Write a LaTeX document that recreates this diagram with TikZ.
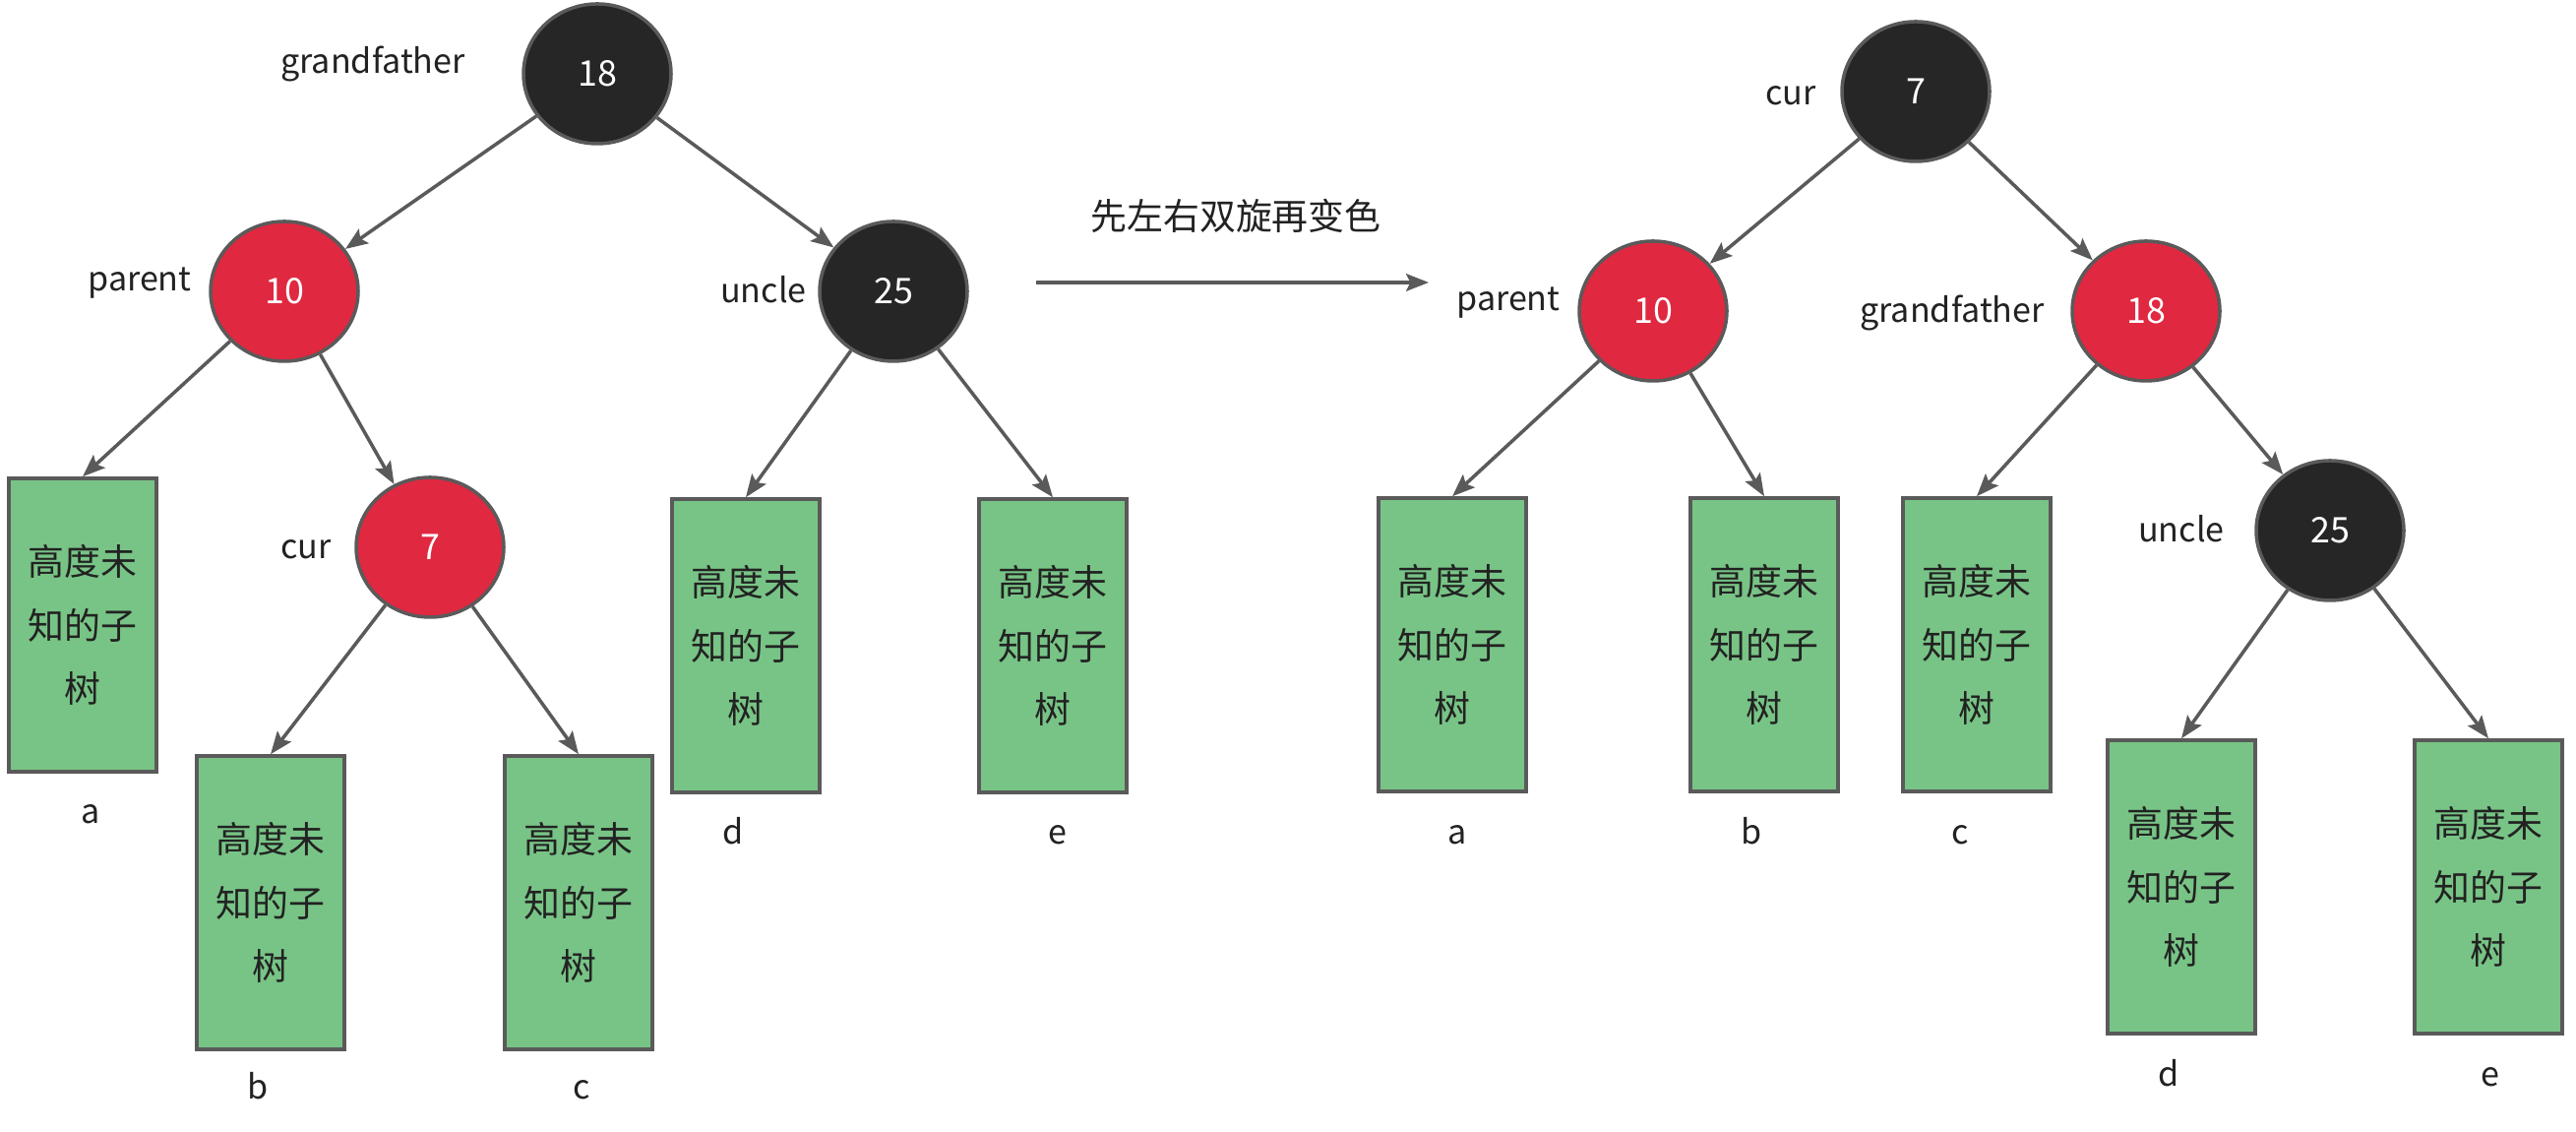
\documentclass[tikz,border=0pt]{standalone}
\usepackage{fontspec}
\setmainfont{Noto Sans CJK SC}
\usetikzlibrary{shapes.geometric,arrows.meta}

\definecolor{nodered}{RGB}{224,40,64}
\definecolor{nodeblack}{RGB}{38,38,38}
\definecolor{leafgreen}{RGB}{120,196,134}
\definecolor{edgegray}{RGB}{90,90,90}
\definecolor{textgray}{RGB}{34,34,34}

\begin{document}
\begin{tikzpicture}[
    rbnode/.style={ellipse, draw=edgegray, line width=1pt, minimum width=1.5cm, minimum height=1.42cm, inner sep=0pt, text=white, font=\fontsize{10.2}{12}\selectfont},
    rednode/.style={rbnode, fill=nodered},
    blacknode/.style={rbnode, fill=nodeblack},
    subtree/.style={rectangle, draw=edgegray, line width=1pt, fill=leafgreen, minimum width=1.5cm, minimum height=2.98cm, inner sep=0pt, align=center, text=textgray, font=\fontsize{10.5}{18.4}\selectfont},
    tag/.style={text=textgray, font=\fontsize{9.7}{12}\selectfont, text height=1.5ex, text depth=.25ex, inner sep=0pt},
    title/.style={tag, font=\fontsize{10.5}{12}\selectfont},
    link/.style={draw=edgegray, line width=1pt, -{Stealth[length=6.5pt, width=5pt, inset=1.2pt]}}
]
    \useasboundingbox (0,0) rectangle (26.18,11.5);

    %left tree
    \node[blacknode] (g18) at (6.07,10.75) {18};
    \node[rednode] (p10) at (2.89,8.54) {10};
    \node[blacknode] (u25) at (9.08,8.54) {25};
    \node[rednode] (c7) at (4.37,5.94) {7};

    \node[subtree] (la) at (0.84,5.15) {高度未\\知的子\\树};
    \node[subtree] (lb) at (2.75,2.33) {高度未\\知的子\\树};
    \node[subtree] (lc) at (5.88,2.33) {高度未\\知的子\\树};
    \node[subtree] (ld) at (7.58,4.94) {高度未\\知的子\\树};
    \node[subtree] (le) at (10.70,4.94) {高度未\\知的子\\树};

    \draw[link] (g18) -- (p10);
    \draw[link] (g18) -- (u25);
    \draw[link] (p10) -- (la.north);
    \draw[link] (p10) -- (c7);
    \draw[link] (c7) -- (lb.north);
    \draw[link] (c7) -- (lc.north);
    \draw[link] (u25) -- (ld.north);
    \draw[link] (u25) -- (le.north);

    %left labels
    \node[tag] (lgf) at (3.79,10.87) {grandfather};
    \node[tag] (lpa) at (1.42,8.66) {parent};
    \node[tag] (lun) at (7.76,8.54) {uncle};
    \node[tag] (lcu) at (3.11,5.94) {cur};
    \node[tag] (lna) at (0.92,3.25) {a};
    \node[tag] (lnb) at (2.62,0.45) {b};
    \node[tag] (lnc) at (5.91,0.45) {c};
    \node[tag] (lnd) at (7.45,3.04) {d};
    \node[tag] (lne) at (10.75,3.04) {e};

    %rotation arrow
    \coordinate (from) at (10.53,8.63);
    \coordinate (to) at (14.52,8.63);
    \draw[link] (from) -- (to);
    \node[title] (step1) at (12.56,9.28) {先左右双旋再变色};

    %right tree
    \node[blacknode] (r7) at (19.47,10.57) {7};
    \node[rednode] (r10) at (16.80,8.34) {10};
    \node[rednode] (r18) at (21.81,8.34) {18};
    \node[blacknode] (r25) at (23.68,6.11) {25};

    \node[subtree] (ra) at (14.76,4.95) {高度未\\知的子\\树};
    \node[subtree] (rb) at (17.93,4.95) {高度未\\知的子\\树};
    \node[subtree] (rc) at (20.09,4.95) {高度未\\知的子\\树};
    \node[subtree] (rd) at (22.17,2.49) {高度未\\知的子\\树};
    \node[subtree] (re) at (25.29,2.49) {高度未\\知的子\\树};

    \draw[link] (r7) -- (r10);
    \draw[link] (r7) -- (r18);
    \draw[link] (r10) -- (ra.north);
    \draw[link] (r10) -- (rb.north);
    \draw[link] (r18) -- (rc.north);
    \draw[link] (r18) -- (r25);
    \draw[link] (r25) -- (rd.north);
    \draw[link] (r25) -- (re.north);

    %right labels
    \node[tag] (rcu) at (18.20,10.55) {cur};
    \node[tag] (rpa) at (15.33,8.46) {parent};
    \node[tag] (rgf) at (19.84,8.34) {grandfather};
    \node[tag] (run) at (22.17,6.11) {uncle};
    \node[tag] (rna) at (14.81,3.04) {a};
    \node[tag] (rnb) at (17.80,3.04) {b};
    \node[tag] (rnc) at (19.92,3.04) {c};
    \node[tag] (rnd) at (22.04,0.58) {d};
    \node[tag] (rne) at (25.31,0.58) {e};
\end{tikzpicture}
\end{document}
